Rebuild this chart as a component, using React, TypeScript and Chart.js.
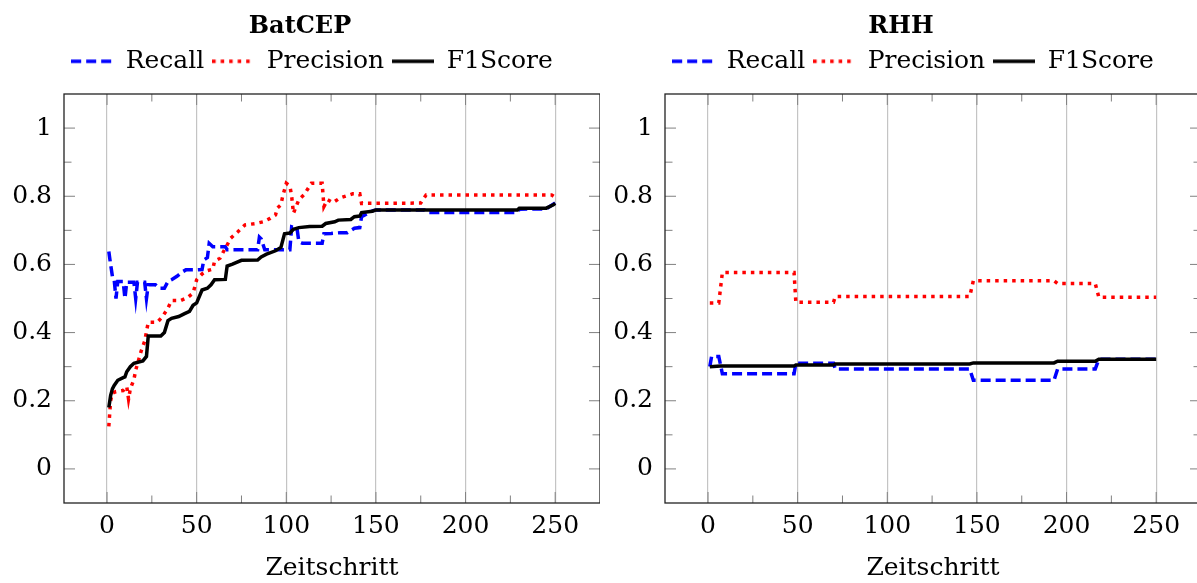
import React, { useEffect, useRef } from 'react';
import { Chart, registerables } from 'chart.js';

Chart.register(...registerables);

// ---------- data ----------
const CHART_TITLES = ['BatCEP', 'RHH'];
const SERIES_NAMES = ['Recall', 'Precision', 'F1Score'];
const X_TITLE = 'Zeitschritt';

const X_TICKS = [0, 50, 100, 150, 200, 250];
const X_TICK_LABELS = ['0', '50', '100', '150', '200', '250'];
const X_MINOR_TICKS = [25, 75, 125, 175, 225];
const Y_TICKS = [0, 0.2, 0.4, 0.6, 0.8, 1];
const Y_TICK_LABELS = ['0', '0.2', '0.4', '0.6', '0.8', '1'];
const Y_MINOR_TICKS = [0.1, 0.3, 0.5, 0.7, 0.9];

const BATCEP_RECALL: [number, number][] = [
  [1, 0.638], [2, 0.6], [3, 0.565], [4, 0.555], [5, 0.5], [6, 0.55], [9, 0.55], [10, 0.5],
  [11, 0.548], [15, 0.548], [16, 0.5], [17, 0.548], [21, 0.548], [22, 0.5], [23, 0.54],
  [27, 0.54], [29, 0.53], [32, 0.53], [34, 0.55], [36, 0.555], [39, 0.565], [42, 0.578],
  [44, 0.584], [50, 0.584], [53, 0.585], [54, 0.613], [56, 0.62], [57, 0.662], [59, 0.652],
  [66, 0.652], [67, 0.643], [84, 0.643], [85, 0.68], [86, 0.675], [88, 0.643], [102, 0.643],
  [103, 0.71], [106, 0.705], [107, 0.667], [109, 0.662], [120, 0.662], [121, 0.69],
  [125, 0.691], [130, 0.693], [134, 0.693], [138, 0.706], [141, 0.708], [142, 0.74],
  [148, 0.757], [150, 0.76], [177, 0.76], [178, 0.752], [229, 0.752], [230, 0.762],
  [245, 0.763], [250, 0.78],
];

const BATCEP_PRECISION: [number, number][] = [
  [1, 0.125], [2, 0.2], [3, 0.222], [5, 0.227], [9, 0.23], [11, 0.242], [12, 0.205],
  [13, 0.235], [15, 0.262], [16, 0.29], [19, 0.345], [21, 0.375], [23, 0.43], [28, 0.43],
  [31, 0.447], [34, 0.472], [36, 0.494], [41, 0.494], [45, 0.503], [48, 0.516], [49, 0.535],
  [50, 0.555], [53, 0.572], [56, 0.582], [59, 0.586], [60, 0.61], [63, 0.618], [65, 0.638],
  [67, 0.657], [69, 0.677], [73, 0.696], [77, 0.716], [83, 0.72], [87, 0.725], [91, 0.735],
  [94, 0.745], [95, 0.765], [97, 0.775], [98, 0.8], [100, 0.838], [102, 0.83], [103, 0.8],
  [104, 0.75], [107, 0.79], [110, 0.805], [114, 0.838], [120, 0.838], [121, 0.77],
  [123, 0.79], [126, 0.781], [130, 0.795], [137, 0.807], [141, 0.807], [142, 0.779],
  [175, 0.78], [178, 0.804], [248, 0.804], [250, 0.797],
];

const BATCEP_F1: [number, number][] = [
  [1, 0.18], [2, 0.215], [3, 0.235], [4, 0.245], [6, 0.26], [9, 0.268], [10, 0.27],
  [11, 0.285], [13, 0.3], [15, 0.31], [20, 0.317], [22, 0.33], [23, 0.39], [30, 0.39],
  [32, 0.4], [34, 0.435], [36, 0.442], [40, 0.447], [43, 0.455], [46, 0.462], [48, 0.48],
  [50, 0.487], [53, 0.525], [56, 0.53], [58, 0.54], [60, 0.555], [66, 0.556], [67, 0.595],
  [70, 0.601], [75, 0.612], [84, 0.613], [86, 0.622], [89, 0.63], [94, 0.64], [97, 0.65],
  [99, 0.69], [102, 0.692], [104, 0.703], [107, 0.708], [113, 0.711], [120, 0.712],
  [122, 0.72], [127, 0.725], [129, 0.73], [136, 0.732], [138, 0.74], [141, 0.742],
  [142, 0.752], [148, 0.756], [150, 0.76], [229, 0.76], [230, 0.765], [245, 0.765],
  [249, 0.775], [250, 0.779],
];

const RHH_RECALL: [number, number][] = [
  [1, 0.3], [2, 0.33], [6, 0.33], [8, 0.279], [48, 0.279], [49, 0.31], [70, 0.31],
  [71, 0.293], [146, 0.293], [148, 0.26], [193, 0.26], [195, 0.293], [216, 0.293],
  [218, 0.322], [250, 0.322],
];

const RHH_PRECISION: [number, number][] = [
  [1, 0.487], [6, 0.487], [8, 0.576], [48, 0.576], [49, 0.489], [70, 0.489], [71, 0.506],
  [146, 0.506], [148, 0.552], [193, 0.552], [195, 0.544], [216, 0.544], [218, 0.504],
  [250, 0.504],
];

const RHH_F1: [number, number][] = [
  [1, 0.3], [7, 0.302], [48, 0.302], [49, 0.305], [70, 0.305], [71, 0.308], [146, 0.308],
  [148, 0.311], [193, 0.311], [195, 0.316], [216, 0.316], [218, 0.322], [250, 0.322],
];

// ---------- styles ----------
const FONT_FAMILY = "'DejaVu Serif', 'Liberation Serif', serif";
const SERIES_COLORS = ['#0000ff', '#ff0000', '#000000'];
const SERIES_DASH = [[10, 5], [3.5, 5], []];
const LINE_W = 3.5;

const TITLE_PAD = 12;
const TITLE_H = TITLE_PAD + 24 * 1.2;
const LEGEND_H = 94 - TITLE_H;
const LEGEND_SHIFT = 12;

function legendIcon(color: string, dash: number[]) {
  const c = document.createElement('canvas');
  c.width = 42;
  c.height = 8;
  const g = c.getContext('2d')!;
  g.strokeStyle = color;
  g.lineWidth = LINE_W;
  g.lineCap = 'butt';
  g.setLineDash(dash);
  g.beginPath();
  g.moveTo(0, 4);
  g.lineTo(42, 4);
  g.stroke();
  return c;
}

const framePlugin = {
  id: 'pgfFrame',
  beforeInit(chart: any) {
    const lg = chart.legend;
    if (lg) {
      const orig = lg.fit;
      lg.fit = function () {
        orig.call(lg);
        lg.height = LEGEND_H;
      };
    }
  },
  afterLayout(chart: any) {
    if (chart.legend) {
      chart.legend.left += LEGEND_SHIFT;
      chart.legend.right += LEGEND_SHIFT;
    }
  },
  afterDatasetsDraw(chart: any) {
    const { ctx, chartArea: a, scales } = chart;
    const xs = scales.x;
    const ys = scales.y;
    ctx.save();
    ctx.strokeStyle = '#808080';
    ctx.lineWidth = 1;
    ctx.beginPath();
    const vt = (v: number, len: number) => {
      const p = xs.getPixelForValue(v);
      ctx.moveTo(p, a.bottom);
      ctx.lineTo(p, a.bottom - len);
      ctx.moveTo(p, a.top);
      ctx.lineTo(p, a.top + len);
    };
    const ht = (v: number, len: number) => {
      const p = ys.getPixelForValue(v);
      ctx.moveTo(a.left, p);
      ctx.lineTo(a.left + len, p);
      ctx.moveTo(a.right, p);
      ctx.lineTo(a.right - len, p);
    };
    X_TICKS.forEach((v) => vt(v, 11));
    X_MINOR_TICKS.forEach((v) => vt(v, 7.5));
    Y_TICKS.forEach((v) => ht(v, 11));
    Y_MINOR_TICKS.forEach((v) => ht(v, 7.5));
    ctx.stroke();
    ctx.strokeStyle = '#222222';
    ctx.lineWidth = 1.3;
    ctx.strokeRect(a.left, a.top, a.right - a.left, a.bottom - a.top);
    ctx.restore();
  },
};

function buildConfig(title: string, series: [number, number][][]): any {
  const font = { family: FONT_FAMILY, size: 25 };
  const datasets = series.map((pts, i) => ({
    label: SERIES_NAMES[i],
    data: pts.map(([x, y]) => ({ x, y })),
    borderColor: SERIES_COLORS[i],
    backgroundColor: SERIES_COLORS[i],
    borderWidth: LINE_W,
    borderDash: SERIES_DASH[i],
    borderCapStyle: 'butt',
    borderJoinStyle: 'miter',
    pointRadius: 0,
    tension: 0,
    fill: false,
    order: 2 - i,
  }));
  return {
    type: 'line',
    data: { datasets },
    plugins: [framePlugin],
    options: {
      animation: false,
      responsive: false,
      maintainAspectRatio: false,
      devicePixelRatio: 1,
      events: [],
      layout: { padding: 0 },
      scales: {
        x: {
          type: 'linear',
          min: -24,
          max: 275,
          afterBuildTicks: (s: any) => {
            s.ticks = X_TICKS.map((value) => ({ value }));
          },
          afterFit: (s: any) => {
            s.height = 80;
          },
          ticks: {
            font,
            color: '#000',
            padding: 8,
            autoSkip: false,
            maxRotation: 0,
            callback: (_v: any, i: number) => X_TICK_LABELS[i],
          },
          grid: { color: '#c4c4c4', lineWidth: 1.2, drawTicks: false },
          border: { display: false },
          title: { display: true, text: X_TITLE, font, color: '#000', padding: { top: 0, bottom: 0 } },
        },
        y: {
          type: 'linear',
          min: -0.1,
          max: 1.1,
          afterBuildTicks: (s: any) => {
            s.ticks = Y_TICKS.map((value) => ({ value }));
          },
          afterFit: (s: any) => {
            s.width = 64;
          },
          ticks: {
            font,
            color: '#000',
            padding: 12,
            autoSkip: false,
            callback: (_v: any, i: number) => Y_TICK_LABELS[i],
          },
          grid: { display: false, drawTicks: false },
          border: { display: false },
        },
      },
      plugins: {
        tooltip: { enabled: false },
        title: {
          display: true,
          text: title,
          color: '#000',
          font: { family: FONT_FAMILY, size: 24, weight: 'bold' },
          padding: { top: TITLE_PAD, bottom: 0 },
        },
        legend: {
          display: true,
          position: 'top',
          labels: {
            usePointStyle: true,
            pointStyleWidth: 42,
            font,
            color: '#000',
            padding: 8,
            generateLabels: () =>
              SERIES_NAMES.map((name, i) => ({
                text: name,
                fillStyle: SERIES_COLORS[i],
                strokeStyle: SERIES_COLORS[i],
                lineWidth: 1,
                hidden: false,
                datasetIndex: i,
                fontColor: '#000',
                pointStyle: legendIcon(SERIES_COLORS[i], SERIES_DASH[i]),
              })),
          },
        },
      },
    },
  };
}

export default function App() {
  const leftRef = useRef<HTMLCanvasElement>(null);
  const rightRef = useRef<HTMLCanvasElement>(null);

  useEffect(() => {
    const c1 = new Chart(leftRef.current!, buildConfig(CHART_TITLES[0], [BATCEP_RECALL, BATCEP_PRECISION, BATCEP_F1]));
    const c2 = new Chart(rightRef.current!, buildConfig(CHART_TITLES[1], [RHH_RECALL, RHH_PRECISION, RHH_F1]));
    return () => {
      c1.destroy();
      c2.destroy();
    };
  }, []);

  return (
    <div
      style={{
        position: 'fixed',
        left: 0,
        top: 0,
        width: 1197,
        height: 583,
        overflow: 'hidden',
        background: '#fff',
      }}
    >
      <canvas
        ref={leftRef}
        width={600}
        height={583}
        style={{ position: 'absolute', left: 0, top: 0, width: 600, height: 583 }}
      />
      <canvas
        ref={rightRef}
        width={600}
        height={583}
        style={{ position: 'absolute', left: 601, top: 0, width: 600, height: 583 }}
      />
    </div>
  );
}
